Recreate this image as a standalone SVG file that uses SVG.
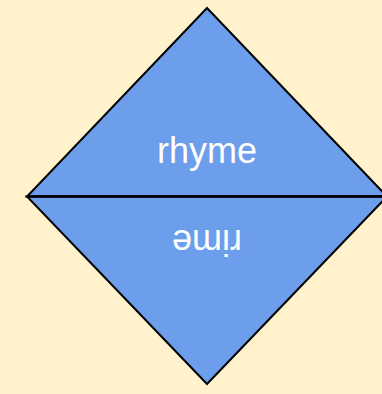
<svg xmlns="http://www.w3.org/2000/svg" width="382" height="394" viewBox="0 0 382 394">
<style>
.tri{fill:#6d9eeb;stroke:#000;stroke-width:2;stroke-linejoin:miter}
.lbl{font-family:"Liberation Sans",Arial,sans-serif;font-size:36px;fill:#fff;text-anchor:middle}
.div{stroke:#000;stroke-width:2.5;fill:none}
</style>
<rect width="382" height="394" fill="#fff2cc"/>
<g id="top">
<polygon class="tri" points="207,8 387,196.5 27,196.5"/>
<text class="lbl" x="207" y="163">rhyme</text>
</g>
<g id="bottom">
<polygon class="tri" points="27,196.5 387,196.5 207,384"/>
<text class="lbl" x="207" y="230" transform="rotate(180 207 230)">rime</text>
</g>
<g id="connectors">
<line class="div" x1="27" y1="196.5" x2="387" y2="196.5"/>
</g>
</svg>
